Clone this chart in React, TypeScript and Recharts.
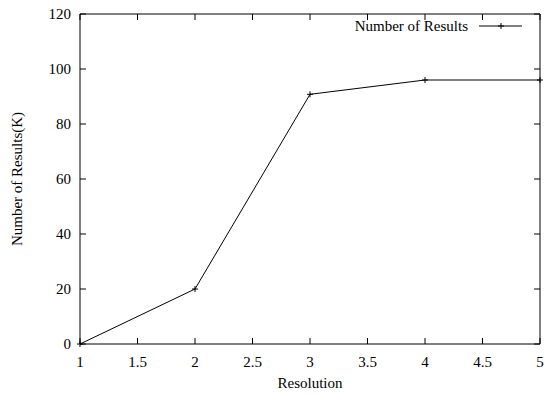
import React from 'react';
import { LineChart, Line, XAxis, YAxis } from 'recharts';

const resolution = [1, 2, 3, 4, 5];
const resultsK = [0, 20, 90.8, 96, 96];
const xTicks = [1, 1.5, 2, 2.5, 3, 3.5, 4, 4.5, 5];
const yTicks = [0, 20, 40, 60, 80, 100, 120];
const seriesName = 'Number of Results';
const xTitle = 'Resolution';
const yTitle = 'Number of Results(K)';

const data = resolution.map((r, i) => ({ resolution: r, results: resultsK[i] }));

const FONT = '"Liberation Serif", "Times New Roman", serif';
const FS = 15;

// gnuplot style "+" point marker
const PlusDot = (props: any) => {
  const { cx, cy } = props;
  if (cx == null || cy == null) return null;
  return (
    <g>
      <line x1={cx - 3} y1={cy} x2={cx + 3} y2={cy} stroke="#000" strokeWidth={1} />
      <line x1={cx} y1={cy - 3} x2={cx} y2={cy + 3} stroke="#000" strokeWidth={1} />
    </g>
  );
};

const KeyBox = () => (
  <div
    style={{
      position: 'absolute', top: 17, right: 22, display: 'flex', alignItems: 'center',
      color: '#000', lineHeight: '18px',
    }}
  >
    <span>{seriesName}</span>
    <svg width={44} height={10} style={{ marginLeft: 11 }}>
      <line x1={0} y1={5} x2={43} y2={5} stroke="#000" strokeWidth={1} />
      <line x1={19} y1={5} x2={25} y2={5} stroke="#000" />
      <line x1={22} y1={2} x2={22} y2={8} stroke="#000" />
    </svg>
  </div>
);

const hideLabel = () => '';

export default function App() {
  return (
    <div
      style={{
        position: 'absolute', left: 0, top: 0, width: 545, height: 397, background: '#fff',
        fontFamily: FONT, fontSize: FS, color: '#000',
      }}
    >
      <LineChart width={545} height={397} data={data} margin={{ top: 0, right: 0, bottom: 0, left: 0 }}>
        <XAxis
          dataKey="resolution"
          type="number"
          domain={[1, 5]}
          ticks={xTicks}
          height={53}
          tickSize={-6}
          tickMargin={18}
          stroke="#000"
        />
        <XAxis
          xAxisId="top"
          orientation="top"
          dataKey="resolution"
          type="number"
          domain={[1, 5]}
          ticks={xTicks}
          height={14}
          tickSize={-6}
          tickFormatter={hideLabel}
          stroke="#000"
        />
        <YAxis
          type="number"
          domain={[0, 120]}
          ticks={yTicks}
          width={80}
          tickSize={-6}
          tickMargin={15}
          stroke="#000"
        />
        <YAxis
          yAxisId="right"
          orientation="right"
          type="number"
          domain={[0, 120]}
          ticks={yTicks}
          width={5}
          tickSize={-6}
          tickFormatter={hideLabel}
          stroke="#000"
        />
        <Line
          xAxisId="top"
          yAxisId="right"
          dataKey="results"
          stroke="none"
          dot={false}
          isAnimationActive={false}
        />
        <Line
          type="linear"
          dataKey="results"
          stroke="#000"
          strokeWidth={1}
          dot={<PlusDot />}
          activeDot={false}
          isAnimationActive={false}
        />
      </LineChart>
      <div style={{ position: 'absolute', left: 80, width: 460, top: 374, textAlign: 'center', lineHeight: '18px' }}>
        {xTitle}
      </div>
      <div
        style={{
          position: 'absolute', left: 17, top: 179, width: 200, marginLeft: -100, marginTop: -9,
          textAlign: 'center', lineHeight: '18px', transform: 'rotate(-90deg)',
        }}
      >
        {yTitle}
      </div>
      <KeyBox />
    </div>
  );
}
